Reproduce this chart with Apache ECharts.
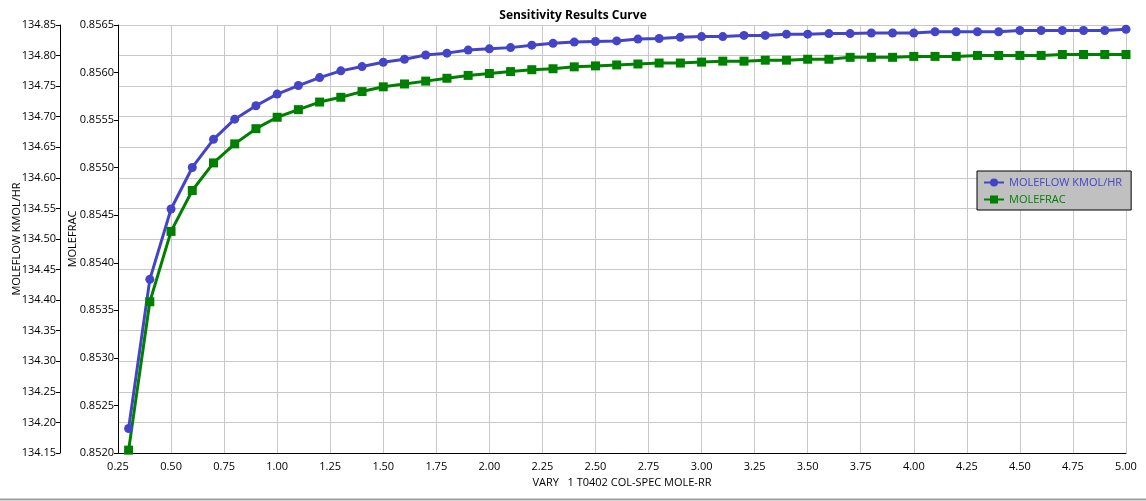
<!DOCTYPE html>
<html>
<head>
<meta charset="utf-8">
<title>Sensitivity Results Curve</title>
<script src="https://cdn.jsdelivr.net/npm/echarts@6/dist/echarts.min.js"></script>
<style>
  html, body { margin: 0; padding: 0; background: #fff; }
  #chart { width: 1146px; height: 501px; }
</style>
</head>
<body>
<div id="chart"></div>
<script>
// VARY 1 T0402 COL-SPEC MOLE-RR
const moleRR = [
  0.3, 0.4, 0.5, 0.6, 0.7, 0.8, 0.9, 1.0, 1.1, 1.2, 1.3, 1.4, 1.5, 1.6, 1.7, 1.8,
  1.9, 2.0, 2.1, 2.2, 2.3, 2.4, 2.5, 2.6, 2.7, 2.8, 2.9, 3.0, 3.1, 3.2, 3.3, 3.4,
  3.5, 3.6, 3.7, 3.8, 3.9, 4.0, 4.1, 4.2, 4.3, 4.4, 4.5, 4.6, 4.7, 4.8, 4.9, 5.0
]
// MOLEFLOW KMOL/HR
const moleFlow = [
  134.190, 134.434, 134.549, 134.617, 134.663, 134.696, 134.718, 134.737,
  134.751, 134.764, 134.775, 134.782, 134.789, 134.794, 134.801, 134.804,
  134.809, 134.811, 134.813, 134.817, 134.820, 134.822, 134.823, 134.824,
  134.827, 134.828, 134.830, 134.831, 134.831, 134.833, 134.833, 134.835,
  134.835, 134.836, 134.836, 134.837, 134.837, 134.837, 134.839, 134.839,
  134.839, 134.839, 134.841, 134.841, 134.841, 134.841, 134.841, 134.843
]
// MOLEFRAC
const moleFrac = [
  0.85203, 0.85359, 0.85433, 0.85476, 0.85505, 0.85525, 0.85541, 0.85553,
  0.85561, 0.85569, 0.85574, 0.85580, 0.85585, 0.85588, 0.85591, 0.85594,
  0.85597, 0.85599, 0.85601, 0.85603, 0.85604, 0.85606, 0.85607, 0.85608,
  0.85609, 0.85610, 0.85610, 0.85611, 0.85612, 0.85612, 0.85613, 0.85613,
  0.85614, 0.85614, 0.85616, 0.85616, 0.85616, 0.85617, 0.85617, 0.85617,
  0.85618, 0.85618, 0.85618, 0.85618, 0.85619, 0.85619, 0.85619, 0.85619
]

const font = "'Segoe UI', 'Open Sans', 'Noto Sans', sans-serif"
const blue = '#4444c8'
const green = '#008000'

function pairs(xs, ys) {
  return xs.map((x, i) => [x, ys[i]])
}

const chart = echarts.init(document.getElementById('chart'))
chart.setOption({
  animation: false,
  textStyle: { fontFamily: font },
  title: {
    text: 'Sensitivity Results Curve',
    left: 'center',
    top: 5,
    textStyle: { fontSize: 12, fontWeight: 'bold', color: '#000', fontFamily: font }
  },
  legend: {
    orient: 'vertical',
    left: 977,
    top: 171,
    backgroundColor: '#c0c0c0',
    borderColor: '#000',
    borderWidth: 1,
    borderRadius: 0,
    padding: [5, 9, 4, 6],
    itemGap: 4,
    itemWidth: 20,
    itemHeight: 10,
    textStyle: { fontSize: 11, lineHeight: 13, fontFamily: font },
    data: [
      { name: 'MOLEFLOW KMOL/HR', textStyle: { color: blue } },
      { name: 'MOLEFRAC', textStyle: { color: green } }
    ]
  },
  grid: { left: 118, right: 20, top: 25, bottom: 48, containLabel: false, outerBoundsMode: 'none' },
  xAxis: {
    type: 'value',
    min: 0.25,
    max: 5,
    interval: 0.25,
    name: 'VARY   1 T0402 COL-SPEC MOLE-RR',
    nameLocation: 'middle',
    nameGap: 24,
    nameMoveOverlap: false,
    nameTextStyle: { fontSize: 11, color: '#000' },
    axisLine: { lineStyle: { color: '#000', width: 1 } },
    axisTick: { show: false },
    axisLabel: {
      color: '#000',
      fontSize: 11,
      margin: 8,
      formatter: v => v.toFixed(2)
    },
    splitLine: { show: true, lineStyle: { color: '#c8c8c8', width: 1 } }
  },
  yAxis: [
    {
      type: 'value',
      position: 'left',
      offset: 58,
      min: 134.15,
      max: 134.85,
      interval: 0.05,
      name: 'MOLEFLOW KMOL/HR',
      nameLocation: 'middle',
      nameGap: 38,
      nameMoveOverlap: false,
      nameTextStyle: { fontSize: 11, color: '#000' },
      axisLine: { show: true, lineStyle: { color: '#000', width: 1 } },
      axisTick: { show: true, length: 4, lineStyle: { color: '#000' } },
      axisLabel: { color: '#000', fontSize: 11, margin: 4, formatter: v => v.toFixed(2) },
      splitLine: { show: true, lineStyle: { color: '#c8c8c8', width: 1 } }
    },
    {
      type: 'value',
      position: 'left',
      offset: 0,
      min: 0.852,
      max: 0.8565,
      interval: 0.0005,
      name: 'MOLEFRAC',
      nameLocation: 'middle',
      nameGap: 40,
      nameMoveOverlap: false,
      nameTextStyle: { fontSize: 11, color: '#000' },
      axisLine: { show: true, lineStyle: { color: '#000', width: 1 } },
      axisTick: { show: true, length: 4, lineStyle: { color: '#000' } },
      axisLabel: { color: '#000', fontSize: 11, margin: 4, formatter: v => v.toFixed(4) },
      splitLine: { show: false }
    }
  ],
  graphic: [
    {
      type: 'line',
      shape: { x1: 0, y1: 499.5, x2: 1146, y2: 499.5 },
      style: { stroke: '#a0a0a0', lineWidth: 2 },
      silent: true
    }
  ],
  series: [
    {
      name: 'MOLEFLOW KMOL/HR',
      type: 'line',
      yAxisIndex: 0,
      data: pairs(moleRR, moleFlow),
      symbol: 'circle',
      symbolSize: 9,
      itemStyle: { color: blue },
      lineStyle: { color: blue, width: 3 }
    },
    {
      name: 'MOLEFRAC',
      type: 'line',
      yAxisIndex: 1,
      data: pairs(moleRR, moleFrac),
      symbol: 'rect',
      symbolSize: 9,
      itemStyle: { color: green },
      lineStyle: { color: green, width: 3 }
    }
  ]
})
</script>
</body>
</html>
